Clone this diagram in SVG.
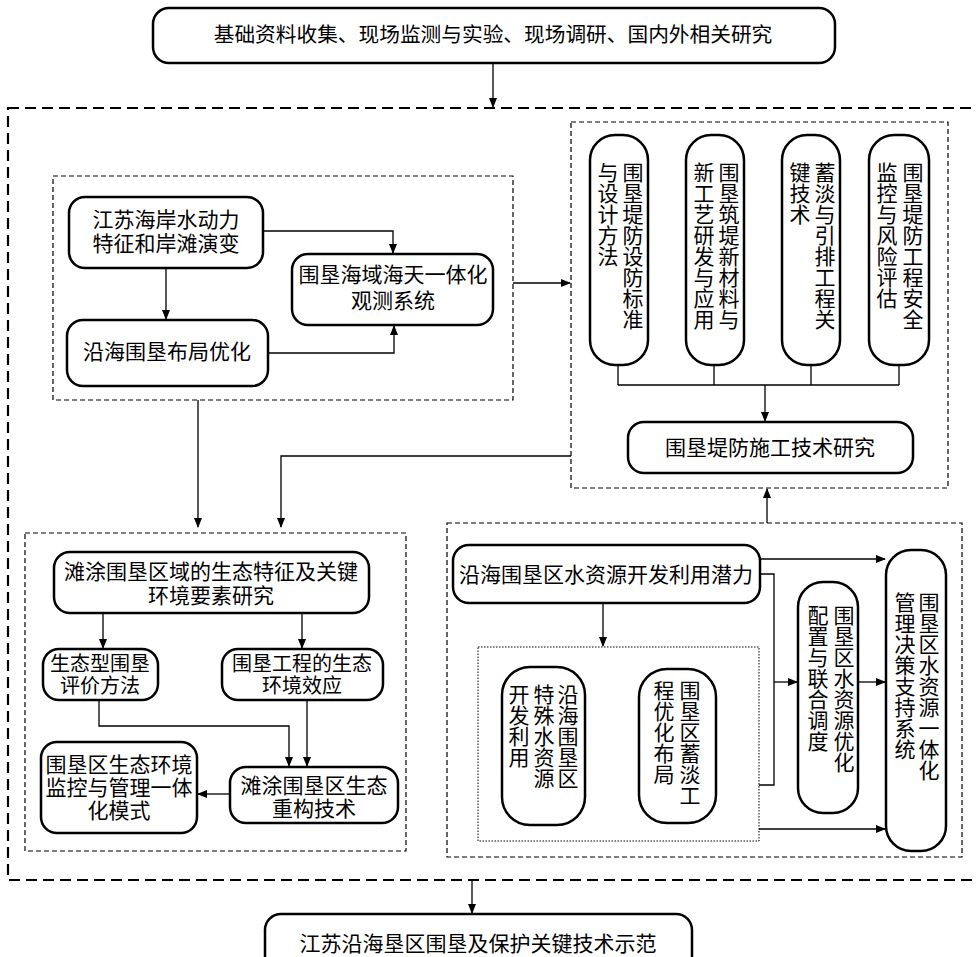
<svg xmlns="http://www.w3.org/2000/svg" width="977" height="957" viewBox="0 0 977 957">
<defs>
<marker id="ah" markerWidth="10" markerHeight="8" refX="9" refY="4" orient="auto" markerUnits="userSpaceOnUse">
<path d="M0,0 L10,4 L0,8 Z" fill="#000"/>
</marker>
<style>
.box{fill:#fff;stroke:#000;stroke-width:2.5}
.t{font-family:"Liberation Serif","Noto Sans CJK SC",serif;font-size:21px;fill:#000;text-anchor:middle;dominant-baseline:central}
.s{font-size:20px}
.v{font-family:"Liberation Serif","Noto Sans CJK SC",serif;font-size:21px;fill:#000;writing-mode:vertical-rl;text-anchor:start}
.c{fill:none;stroke:#000;stroke-width:1.3}
.a{fill:none;stroke:#000;stroke-width:1.3;marker-end:url(#ah)}
.outer{fill:none;stroke:#000;stroke-width:2.2;stroke-dasharray:11 6}
.dash{fill:none;stroke:#000;stroke-width:1.2;stroke-dasharray:5 3}
.dot{fill:none;stroke:#000;stroke-width:1;stroke-dasharray:1.5 1.5}
</style>
</defs>
<rect width="977" height="957" fill="#fff"/>
<g id="frames">
<rect class="outer" x="8" y="108" width="980" height="772"/>
<rect class="dash" x="53" y="176" width="460" height="224"/>
<rect class="dash" x="571" y="122" width="377" height="366"/>
<rect class="dash" x="25" y="533" width="381" height="318"/>
<rect class="dash" x="447" y="523" width="515" height="334"/>
<rect class="dot" x="478" y="647" width="281" height="194"/>
</g>
<g id="connectors">
<path class="a" d="M493,63 V107"/>
<path class="a" d="M472,880 V913"/>
<path class="a" d="M166,268 V319"/>
<path class="a" d="M263,231 H393 V253"/>
<path class="a" d="M268,353 H394 V326"/>
<path class="a" d="M513,283 H570"/>
<path class="c" d="M618,365 V385 M714,365 V385 M811,365 V385 M899,365 V385 M618,385 H899"/>
<path class="a" d="M765,385 V421"/>
<path class="a" d="M198,400 V527"/>
<path class="a" d="M571,456 H281 V527"/>
<path class="a" d="M103,613 V648"/>
<path class="a" d="M302,613 V648"/>
<path class="a" d="M99,700 V726 H289 V766"/>
<path class="a" d="M307,700 V766"/>
<path class="a" d="M230,794 H198"/>
<path class="a" d="M767,523 V489"/>
<path class="a" d="M760,559 H885"/>
<path class="c" d="M760,574 H774 V785 H759"/>
<path class="a" d="M774,682 H797"/>
<path class="a" d="M858,682 H885"/>
<path class="a" d="M759,829 H885"/>
<path class="a" d="M603,603 V646"/>
</g>
<g id="n-top"><rect class="box" x="153" y="8" width="682" height="55" rx="16"/><text class="t" x="493" y="35" style="font-size:20.7px">基础资料收集、现场监测与实验、现场调研、国内外相关研究</text></g>
<g id="n-bottom"><rect class="box" x="265" y="914" width="427" height="60" rx="16"/><text class="t" x="478" y="944">江苏沿海垦区围垦及保护关键技术示范</text></g>
<g id="n-hydro"><rect class="box" x="69" y="197" width="194" height="71" rx="16"/><text class="t" x="166" y="220">江苏海岸水动力</text><text class="t" x="166" y="244">特征和岸滩演变</text></g>
<g id="n-layout"><rect class="box" x="67" y="320" width="201" height="66" rx="16"/><text class="t" x="167" y="352">沿海围垦布局优化</text></g>
<g id="n-observe"><rect class="box" x="292" y="254" width="201" height="71" rx="16"/><text class="t" x="393" y="275">围垦海域海天一体化</text><text class="t" x="393" y="301">观测系统</text></g>
<g id="n-A"><rect class="box" x="590" y="135" width="58" height="230" rx="25"/><text class="v" x="631" y="162">围垦堤防设防标准</text><text class="v" x="606" y="162">与设计方法</text></g>
<g id="n-B"><rect class="box" x="686" y="135" width="58" height="230" rx="25"/><text class="v" x="727" y="162">围垦筑堤新材料与</text><text class="v" x="702" y="162">新工艺研发与应用</text></g>
<g id="n-C"><rect class="box" x="782" y="135" width="58" height="230" rx="25"/><text class="v" x="823" y="162">蓄淡与引排工程关</text><text class="v" x="798" y="162">键技术</text></g>
<g id="n-D"><rect class="box" x="869" y="135" width="60" height="230" rx="25"/><text class="v" x="911" y="162">围垦堤防工程安全</text><text class="v" x="885" y="162">监控与风险评估</text></g>
<g id="n-construct"><rect class="box" x="628" y="422" width="285" height="51" rx="16"/><text class="t" x="770" y="448">围垦堤防施工技术研究</text></g>
<g id="n-eco"><rect class="box" x="54" y="552" width="315" height="61" rx="16"/><text class="t" x="211" y="572">滩涂围垦区域的生态特征及关键</text><text class="t" x="211" y="596">环境要素研究</text></g>
<g id="n-eval"><rect class="box" x="43" y="649" width="115" height="51" rx="16"/><text class="t s" x="100" y="664">生态型围垦</text><text class="t s" x="100" y="686">评价方法</text></g>
<g id="n-effect"><rect class="box" x="222" y="649" width="161" height="51" rx="16"/><text class="t s" x="302" y="664">围垦工程的生态</text><text class="t s" x="302" y="686">环境效应</text></g>
<g id="n-rebuild"><rect class="box" x="230" y="767" width="168" height="56" rx="16"/><text class="t" x="314" y="786">滩涂围垦区生态</text><text class="t" x="314" y="809">重构技术</text></g>
<g id="n-monitor"><rect class="box" x="41" y="742" width="156" height="91" rx="16"/><text class="t" x="119" y="765">围垦区生态环境</text><text class="t" x="119" y="788">监控与管理一体</text><text class="t" x="119" y="811">化模式</text></g>
<g id="n-potential"><rect class="box" x="453" y="545" width="307" height="58" rx="16"/><text class="t" x="606" y="575">沿海围垦区水资源开发利用潜力</text></g>
<g id="n-special"><rect class="box" x="502" y="667" width="83" height="158" rx="28"/><text class="v" x="566" y="684">沿海围垦区</text><text class="v" x="542" y="684">特殊水资源</text><text class="v" x="517" y="684">开发利用</text></g>
<g id="n-storage"><rect class="box" x="639" y="669" width="77" height="154" rx="28"/><text class="v" x="688" y="680">围垦区蓄淡工</text><text class="v" x="662" y="680">程优化布局</text></g>
<g id="n-dispatch"><rect class="box" x="798" y="582" width="60" height="231" rx="25"/><text class="v" x="842" y="605">围垦区水资源优化</text><text class="v" x="816" y="605">配置与联合调度</text></g>
<g id="n-system"><rect class="box" x="886" y="550" width="60" height="301" rx="25"/><text class="v" x="927" y="592">围垦区水资源一体化</text><text class="v" x="903" y="592">管理决策支持系统</text></g>
</svg>
